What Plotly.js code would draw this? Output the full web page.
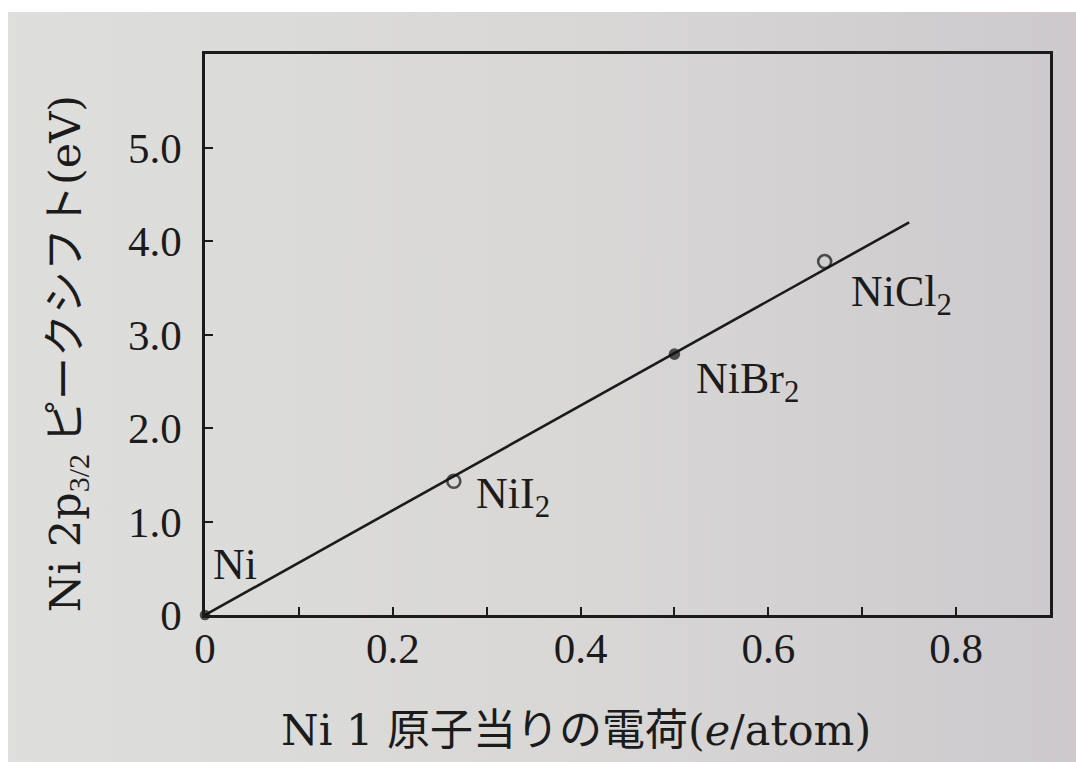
<!DOCTYPE html>
<html>
<head>
<meta charset="utf-8">
<script src="https://cdn.plot.ly/plotly-3.0.1.min.js"></script>
<style>
  html, body { margin: 0; padding: 0; background: #ffffff; }
  #page {
    position: absolute; left: 8px; top: 12px; width: 1068px; height: 750px;
    background: linear-gradient(to right, #dededc 0%, #d8d7d6 55%, #cdc9cd 100%);
  }
  #chart { position: absolute; left: 0; top: 0; width: 1076px; height: 762px; }
</style>
</head>
<body>
<div id="page"></div>
<div id="chart"></div>
<script>
// Ni 2p3/2 binding-energy shift versus charge per Ni atom
const compounds = ['Ni', 'NiI<sub>2</sub>', 'NiBr<sub>2</sub>', 'NiCl<sub>2</sub>'];
const charge = [0, 0.265, 0.50, 0.66];          // e/atom
const peakShift = [0, 1.43, 2.79, 3.78];        // eV
const filled = [true, false, true, false];

// straight line through the data
const lineCharge = [0, 0.75];
const lineShift = [0, 4.2];

const xTickVals = [0, 0.1, 0.2, 0.3, 0.4, 0.5, 0.6, 0.7, 0.8];
const xTickText = ['0', '', '0.2', '', '0.4', '', '0.6', '', '0.8'];
const yTickVals = [0, 1, 2, 3, 4, 5];
const yTickText = ['0', '1.0', '2.0', '3.0', '4.0', '5.0'];

const ink = '#1b1b1b';
const serif = '"Liberation Serif", "Noto Sans CJK JP", serif';
const wide = (s) => '<span style="font-family:\'DejaVu Serif\'">' + s + '</span>';

// label placement relative to each point, in pixels
const labelOffset = [
  { ax: 'left', ay: 'bottom', dx: 6, dy: 24 },
  { ax: 'left', ay: 'middle', dx: 20, dy: -15 },
  { ax: 'left', ay: 'middle', dx: 20, dy: -27 },
  { ax: 'left', ay: 'middle', dx: 24, dy: -33 }
];

const traces = [
  {
    x: lineCharge, y: lineShift, mode: 'lines', type: 'scatter',
    line: { color: ink, width: 2.6 }, hoverinfo: 'skip', showlegend: false
  },
  {
    x: charge, y: peakShift, mode: 'markers', type: 'scatter',
    marker: {
      symbol: filled.map(f => f ? 'circle' : 'circle-open'),
      size: filled.map((f, i) => i === 0 ? 8 : (f ? 9 : 13)),
      color: '#111111',
      line: { color: '#111111', width: 2.6 }
    },
    text: compounds, hoverinfo: 'text', showlegend: false, cliponaxis: false
  }
];

const annotations = compounds.map((name, i) => ({
  x: charge[i], y: peakShift[i], xref: 'x', yref: 'y',
  text: name, showarrow: false,
  xanchor: labelOffset[i].ax, yanchor: labelOffset[i].ay,
  xshift: labelOffset[i].dx, yshift: labelOffset[i].dy,
  font: { family: serif, size: 44, color: ink }
}));

annotations.push({
  xref: 'paper', yref: 'paper', x: 0.439, y: -0.205,
  xanchor: 'center', yanchor: 'middle', showarrow: false,
  text: wide('Ni 1 ') + '原子当りの電荷' + wide('(<i>e</i>/atom)'),
  font: { family: serif, size: 43, color: ink }
});
annotations.push({
  xref: 'paper', yref: 'paper', x: -0.162, y: 0.465,
  xanchor: 'center', yanchor: 'middle', showarrow: false, textangle: -90,
  text: wide('Ni 2p') + '<sub>3/2</sub> ピークシフト' + wide('(eV)'),
  font: { family: serif, size: 43, color: ink }
});

const layout = {
  width: 1076, height: 762,
  margin: { l: 205, r: 26, t: 54, b: 147 },
  paper_bgcolor: 'rgba(0,0,0,0)',
  plot_bgcolor: 'rgba(0,0,0,0)',
  showlegend: false,
  xaxis: {
    range: [0, 0.9], tickmode: 'array', tickvals: xTickVals, ticktext: xTickText,
    ticks: 'inside', ticklen: 8, tickwidth: 2, tickcolor: ink,
    showline: true, linewidth: 2.6, linecolor: ink, mirror: true,
    showgrid: false, zeroline: false, ticklabelstandoff: -6,
    tickfont: { family: serif, size: 43, color: ink }
  },
  yaxis: {
    range: [0, 6], tickmode: 'array', tickvals: yTickVals, ticktext: yTickText,
    ticks: 'inside', ticklen: 8, tickwidth: 2, tickcolor: ink,
    showline: true, linewidth: 2.6, linecolor: ink, mirror: true,
    showgrid: false, zeroline: false, ticklabelstandoff: 12,
    tickfont: { family: serif, size: 43, color: ink }
  },
  annotations: annotations
};

Plotly.newPlot('chart', traces, layout, { staticPlot: true, displayModeBar: false });
</script>
</body>
</html>
